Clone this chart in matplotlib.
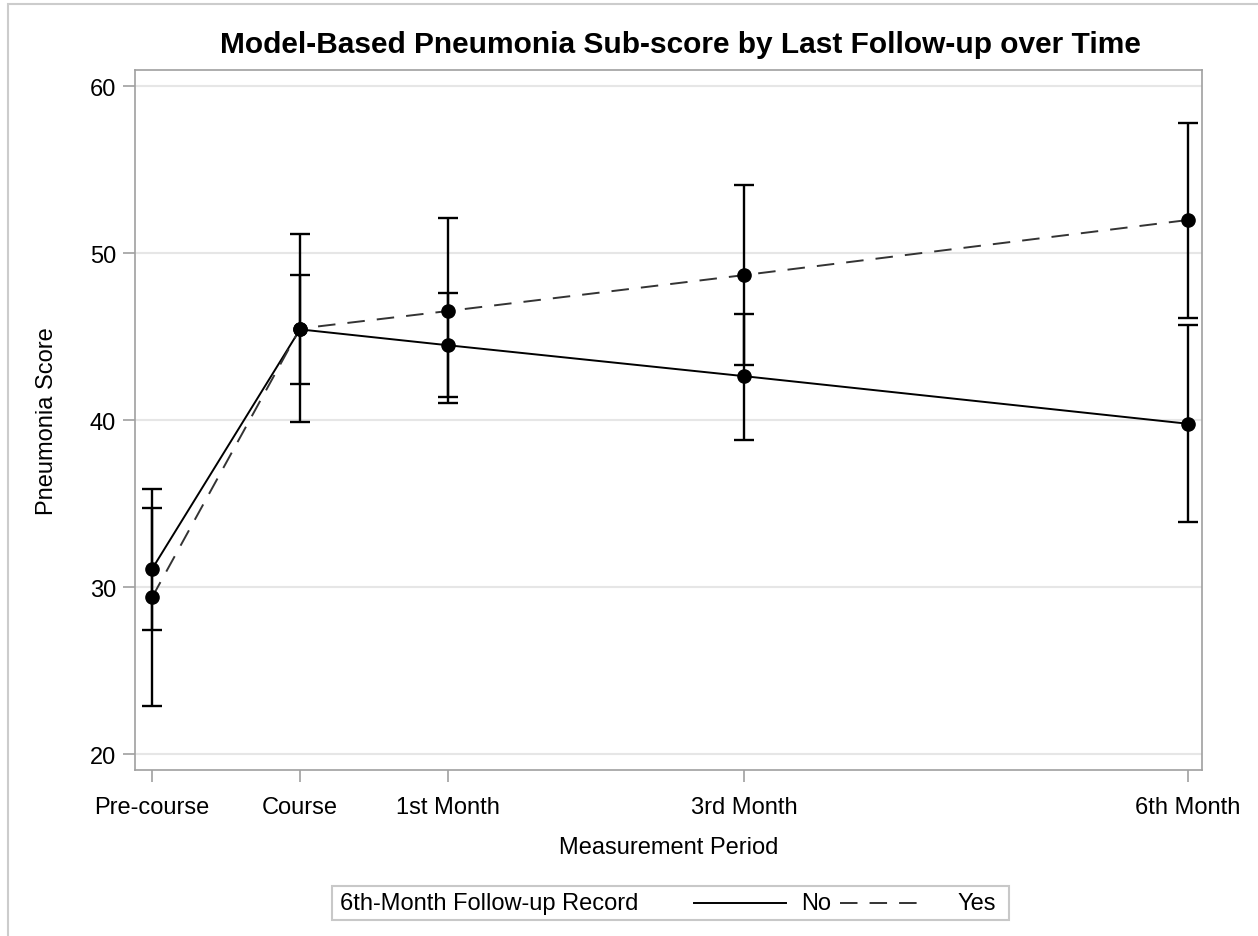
import matplotlib.pyplot as plt
from matplotlib.lines import Line2D
from matplotlib.patches import Rectangle

# measurement periods (months relative to course) and their labels
periods = [-1, 0, 1, 3, 6]
period_labels = ['Pre-course', 'Course', '1st Month', '3rd Month', '6th Month']

# no 6th-month follow-up record
no_mean = [31.1, 45.45, 44.5, 42.65, 39.8]
no_lower = [27.45, 42.2, 41.4, 38.8, 33.9]
no_upper = [34.75, 48.7, 47.65, 46.4, 45.7]

# with a 6th-month follow-up record
yes_mean = [29.4, 45.5, 46.55, 48.7, 52.0]
yes_lower = [22.9, 39.9, 41.05, 43.3, 46.15]
yes_upper = [35.9, 51.15, 52.1, 54.1, 57.8]

y_ticks = [20, 30, 40, 50, 60]

W, H = 1258, 937
plt.rcParams['font.family'] = ['Liberation Sans', 'DejaVu Sans']


def fx(px):
    return px / W


def fy(py):
    return 1 - py / H


dash = (0, (9, 6.2))

fig = plt.figure(figsize=(W / 100, H / 100), dpi=100)
ax = fig.add_axes([fx(135), fy(771), fx(1202) - fx(135), fy(71) - fy(771)])

grey = '#a0a0a0'
for s in ax.spines.values():
    s.set_color(grey)
    s.set_linewidth(1.2)

ax.set_axisbelow(True)
ax.grid(axis='y', color='#e6e6e6', linewidth=1.5)

for mean, lo, hi in [(no_mean, no_lower, no_upper), (yes_mean, yes_lower, yes_upper)]:
    err = [[m - l for m, l in zip(mean, lo)], [h - m for m, h in zip(mean, hi)]]
    ax.errorbar(periods, mean, yerr=err, fmt='none', ecolor='black',
                elinewidth=1.7, capsize=7.5, capthick=1.7, zorder=3)

ax.plot(periods, no_mean, color='black', linewidth=1.4, linestyle='-', zorder=4)
ax.plot(periods, yes_mean, color='#333333', linewidth=1.4, linestyle=dash, zorder=4)
ax.plot(periods, no_mean, 'o', color='black', markersize=9.5, zorder=5)
ax.plot(periods, yes_mean, 'o', color='black', markersize=9.5, zorder=5)

ax.set_xlim(-1.115, 6.095)
ax.set_ylim(19.07, 60.98)
ax.set_xticks(periods)
ax.set_xticklabels(period_labels)
ax.set_yticks(y_ticks)
ax.tick_params(axis='both', colors=grey, labelcolor='black', labelsize=17,
               length=8.5, width=1.2)
ax.tick_params(axis='x', pad=10)
ax.tick_params(axis='y', pad=5)

ax.set_xlabel('Measurement Period', fontsize=17, labelpad=13)
ax.set_ylabel('Pneumonia Score', fontsize=17, labelpad=23)

fig.text(fx(680), fy(53), 'Model-Based Pneumonia Sub-score by Last Follow-up over Time',
         ha='center', va='baseline', fontsize=21.5, weight='bold')

# legend drawn as a boxed row under the axes
fig.patches.append(Rectangle((fx(332), fy(921)), fx(1009) - fx(332), fy(887) - fy(921),
                             transform=fig.transFigure, fill=False,
                             edgecolor='#c8c8c8', linewidth=1.5))
ly = fy(904)
fig.text(fx(340), ly, '6th-Month Follow-up Record', ha='left', va='center', fontsize=17)
fig.lines.append(Line2D([fx(694), fx(786)], [ly, ly], transform=fig.transFigure,
                        color='black', linewidth=1.4))
fig.text(fx(801), ly, 'No', ha='left', va='center', fontsize=17)
fig.lines.append(Line2D([fx(840), fx(918)], [ly, ly], transform=fig.transFigure,
                        color='#333333', linewidth=1.4, linestyle=dash))
fig.text(fx(957), ly, 'Yes', ha='left', va='center', fontsize=17)

# page border
fig.patches.append(Rectangle((fx(8), -0.1), 1.2, fy(5) + 0.1,
                             transform=fig.transFigure, fill=False,
                             edgecolor='#cccccc', linewidth=1.5))

fig.savefig('out.png', dpi=100)
